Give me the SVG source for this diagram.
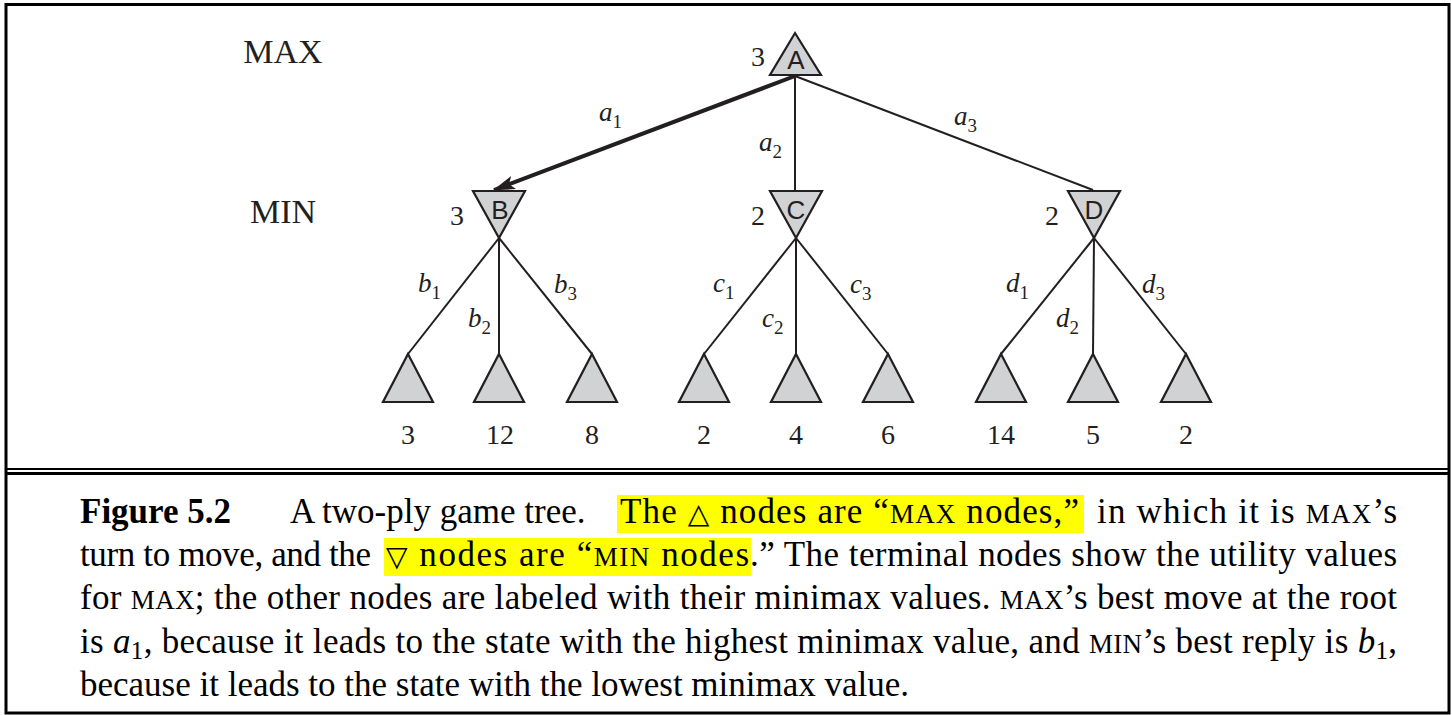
<svg xmlns="http://www.w3.org/2000/svg" width="1452" height="715" viewBox="0 0 1452 715">
<defs>
<style>
.frame{fill:none;stroke:#000;stroke-width:3}
.tri{fill:#d1d2d4;stroke:#231f20;stroke-width:2.2;stroke-linejoin:miter}
.edge{stroke:#231f20;stroke-width:2;fill:none}
.best{stroke:#231f20;stroke-width:4;fill:none}
.ser{font-family:"Liberation Serif","Times New Roman",serif;fill:#231f20}
.lvl{font-size:34px;text-anchor:middle}
.val{font-size:28px;text-anchor:middle}
.let{font-family:"Liberation Sans",Arial,sans-serif;font-size:26px;fill:#231f20;text-anchor:middle}
.lab{font-size:27px;font-style:italic}
.sub{font-size:19px;font-style:normal}
.cap{font-family:"Liberation Serif","Times New Roman",serif;font-size:35px;fill:#000}
.sc{font-size:27px}
.hl{fill:#ffff00}
</style>
<marker id="arr" viewBox="0 0 22 14" refX="21" refY="7" markerWidth="22" markerHeight="14" markerUnits="userSpaceOnUse" orient="auto">
<path d="M0,0 L22,7 L0,14 L5,7 z" fill="#231f20"/>
</marker>
</defs>
<rect width="1452" height="715" fill="#fff"/>

<g id="frame">
<rect class="frame" x="6" y="4.5" width="1443" height="708.5"/>
<line x1="6" y1="469" x2="1449" y2="469" stroke="#000" stroke-width="2.2"/>
<line x1="6" y1="473.5" x2="1449" y2="473.5" stroke="#000" stroke-width="3"/>
</g>

<g id="levels" class="ser lvl">
<text x="283" y="63">MAX</text>
<text x="283" y="223">MIN</text>
</g>

<g id="connectors">
<line class="best" x1="795" y1="76" x2="494" y2="190" marker-end="url(#arr)"/>
<line class="edge" x1="795" y1="76" x2="795" y2="190"/>
<line class="edge" x1="795" y1="76" x2="1093" y2="190"/>
<line class="edge" x1="499" y1="238" x2="408" y2="354"/>
<line class="edge" x1="499" y1="238" x2="499" y2="354"/>
<line class="edge" x1="499" y1="238" x2="592" y2="354"/>
<line class="edge" x1="796" y1="238" x2="704" y2="354"/>
<line class="edge" x1="796" y1="238" x2="796" y2="354"/>
<line class="edge" x1="796" y1="238" x2="888" y2="354"/>
<line class="edge" x1="1094" y1="238" x2="1001" y2="354"/>
<line class="edge" x1="1094" y1="238" x2="1093" y2="354"/>
<line class="edge" x1="1094" y1="238" x2="1186" y2="354"/>
</g>

<g id="edge-labels" class="ser lab">
<text x="599" y="121">a<tspan class="sub" dy="7">1</tspan></text>
<text x="759" y="151">a<tspan class="sub" dy="7">2</tspan></text>
<text x="954" y="125">a<tspan class="sub" dy="7">3</tspan></text>
<text x="418" y="292">b<tspan class="sub" dy="7">1</tspan></text>
<text x="468" y="327">b<tspan class="sub" dy="7">2</tspan></text>
<text x="554" y="293">b<tspan class="sub" dy="7">3</tspan></text>
<text x="713" y="292">c<tspan class="sub" dy="7">1</tspan></text>
<text x="762" y="327">c<tspan class="sub" dy="7">2</tspan></text>
<text x="850" y="293">c<tspan class="sub" dy="7">3</tspan></text>
<text x="1006" y="292">d<tspan class="sub" dy="7">1</tspan></text>
<text x="1056" y="327">d<tspan class="sub" dy="7">2</tspan></text>
<text x="1142" y="293">d<tspan class="sub" dy="7">3</tspan></text>
</g>

<g id="node-A">
<polygon class="tri" points="795,33 821,75 770,75"/>
<text class="let" x="796" y="69">A</text>
<text class="ser val" x="758" y="66">3</text>
</g>
<g id="node-B">
<polygon class="tri" points="473,191 525,191 499,238"/>
<text class="let" x="500" y="219">B</text>
<text class="ser val" x="457" y="225">3</text>
</g>
<g id="node-C">
<polygon class="tri" points="770,191 822,191 796,238"/>
<text class="let" x="796" y="219">C</text>
<text class="ser val" x="758" y="225">2</text>
</g>
<g id="node-D">
<polygon class="tri" points="1068,191 1120,191 1094,238"/>
<text class="let" x="1094" y="219">D</text>
<text class="ser val" x="1052" y="225">2</text>
</g>

<g id="leaf-b1"><polygon class="tri" points="408,354 433,402 383,402"/><text class="ser val" x="408" y="444">3</text></g>
<g id="leaf-b2"><polygon class="tri" points="499,354 524,402 474,402"/><text class="ser val" x="500" y="444">12</text></g>
<g id="leaf-b3"><polygon class="tri" points="592,354 617,402 567,402"/><text class="ser val" x="592" y="444">8</text></g>
<g id="leaf-c1"><polygon class="tri" points="704,354 729,402 679,402"/><text class="ser val" x="704" y="444">2</text></g>
<g id="leaf-c2"><polygon class="tri" points="796,354 821,402 771,402"/><text class="ser val" x="796" y="444">4</text></g>
<g id="leaf-c3"><polygon class="tri" points="888,354 913,402 863,402"/><text class="ser val" x="888" y="444">6</text></g>
<g id="leaf-d1"><polygon class="tri" points="1001,354 1026,402 976,402"/><text class="ser val" x="1001" y="444">14</text></g>
<g id="leaf-d2"><polygon class="tri" points="1093,354 1118,402 1068,402"/><text class="ser val" x="1093" y="444">5</text></g>
<g id="leaf-d3"><polygon class="tri" points="1186,354 1211,402 1161,402"/><text class="ser val" x="1186" y="444">2</text></g>

<g id="caption">
<rect class="hl" x="617" y="495" width="467" height="38"/>
<rect class="hl" x="384" y="538" width="367" height="38"/>
<text class="cap" x="80" y="523" font-weight="bold">Figure 5.2</text>
<text class="cap" x="290" y="523">A two-ply game tree.</text>
<text class="cap" x="620" y="523" textLength="459" lengthAdjust="spacing">The <tspan font-family="DejaVu Sans" font-size="28">△</tspan> nodes are “<tspan class="sc">MAX</tspan> nodes,”</text>
<text class="cap" x="1097" y="523" textLength="300" lengthAdjust="spacing">in which it is <tspan class="sc">MAX</tspan>’s</text>
<text class="cap" x="80" y="566" textLength="291" lengthAdjust="spacing">turn to move, and the</text>
<text class="cap" x="386" y="566" textLength="363" lengthAdjust="spacing"><tspan font-family="DejaVu Sans" font-size="28">▽</tspan> nodes are “<tspan class="sc">MIN</tspan> nodes</text>
<text class="cap" x="750" y="566" textLength="647" lengthAdjust="spacing">.” The terminal nodes show the utility values</text>
<text class="cap" x="80" y="609" textLength="1317" lengthAdjust="spacing">for <tspan class="sc">MAX</tspan>; the other nodes are labeled with their minimax values. <tspan class="sc">MAX</tspan>’s best move at the root</text>
<text class="cap" x="80" y="653" textLength="1317" lengthAdjust="spacing">is <tspan font-style="italic">a</tspan><tspan font-size="25" dy="6">1</tspan><tspan dy="-6">, because it leads to the state with the highest minimax value, and </tspan><tspan class="sc">MIN</tspan>’s best reply is <tspan font-style="italic">b</tspan><tspan font-size="25" dy="6">1</tspan><tspan dy="-6">,</tspan></text>
<text class="cap" x="80" y="696">because it leads to the state with the lowest minimax value.</text>
</g>
</svg>
